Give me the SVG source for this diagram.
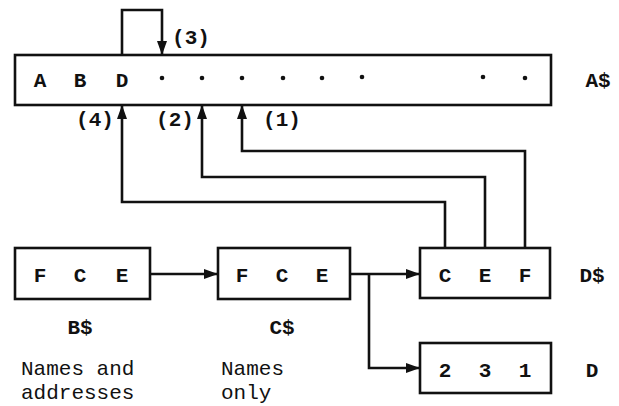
<svg xmlns="http://www.w3.org/2000/svg" width="619" height="406" viewBox="0 0 619 406">
<style>
.box{fill:#fff;stroke:#111;stroke-width:2.6}
.ln{fill:none;stroke:#111;stroke-width:2.6}
text{font-family:"Liberation Mono","Courier New",monospace;font-size:21px;font-weight:bold;fill:#111;text-anchor:middle}
.l{text-anchor:start;font-weight:normal}
.dot{fill:#111}
</style>
<defs>
<marker id="ah" viewBox="0 0 14 10" refX="14" refY="5" markerWidth="14" markerHeight="10" markerUnits="userSpaceOnUse" orient="auto">
<path d="M0,0 L14,5 L0,10 z" fill="#111"/>
</marker>
</defs>
<g id="connectors">
<path class="ln" d="M122,55 V10 H162 V55" marker-end="url(#ah)"/>
<path class="ln" d="M445,248 V202 H122 V105" marker-end="url(#ah)"/>
<path class="ln" d="M485,248 V177 H202 V105" marker-end="url(#ah)"/>
<path class="ln" d="M525,248 V151 H242 V105" marker-end="url(#ah)"/>
<path class="ln" d="M150,274 H218" marker-end="url(#ah)"/>
<path class="ln" d="M350,274 H420" marker-end="url(#ah)"/>
<path class="ln" d="M369,274 V368 H420" marker-end="url(#ah)"/>
</g>
<g id="A">
<rect class="box" x="15" y="55" width="536" height="50"/>
<text x="40" y="87">A</text>
<text x="80" y="87">B</text>
<text x="122" y="87">D</text>
<circle class="dot" cx="162" cy="78" r="2.3"/>
<circle class="dot" cx="202" cy="78" r="2.3"/>
<circle class="dot" cx="242" cy="78" r="2.3"/>
<circle class="dot" cx="283" cy="78" r="2.3"/>
<circle class="dot" cx="322" cy="78" r="2.3"/>
<circle class="dot" cx="362" cy="77" r="2.3"/>
<circle class="dot" cx="483" cy="77" r="2.3"/>
<circle class="dot" cx="525" cy="78" r="2.3"/>
<text x="598" y="87">A$</text>
</g>
<g id="labels">
<text x="191" y="44">(3)</text>
<text x="95" y="126">(4)</text>
<text x="175" y="126">(2)</text>
<text x="282" y="126">(1)</text>
</g>
<g id="B">
<rect class="box" x="15" y="248" width="135" height="51"/>
<text x="40" y="282">F</text>
<text x="80" y="282">C</text>
<text x="122" y="282">E</text>
<text x="80" y="334">B$</text>
<text class="l" x="21" y="375">Names and</text>
<text class="l" x="21" y="399">addresses</text>
</g>
<g id="C">
<rect class="box" x="218" y="248" width="132" height="51"/>
<text x="242" y="282">F</text>
<text x="282" y="282">C</text>
<text x="322" y="282">E</text>
<text x="282" y="334">C$</text>
<text class="l" x="221" y="375">Names</text>
<text class="l" x="221" y="399">only</text>
</g>
<g id="Ds">
<rect class="box" x="420" y="248" width="130" height="50"/>
<text x="445" y="282">C</text>
<text x="485" y="282">E</text>
<text x="525" y="282">F</text>
<text x="592" y="282">D$</text>
</g>
<g id="D">
<rect class="box" x="420" y="343" width="131" height="50"/>
<text x="445" y="377">2</text>
<text x="485" y="377">3</text>
<text x="525" y="377">1</text>
<text x="592" y="377">D</text>
</g>
</svg>
